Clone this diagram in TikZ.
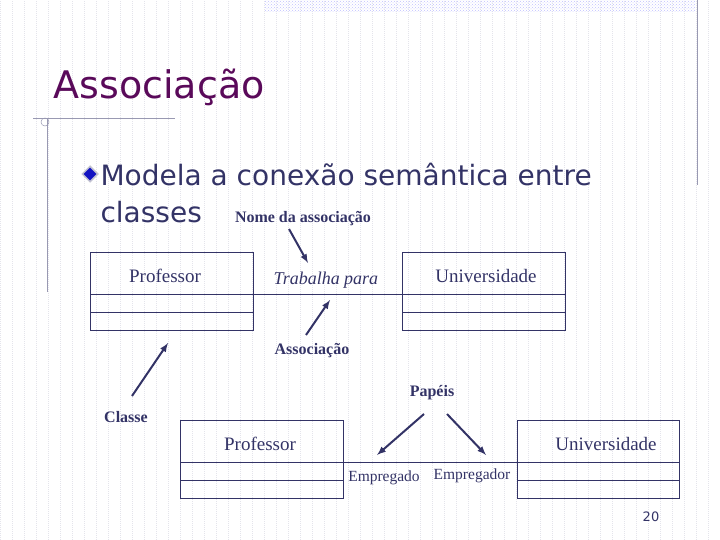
\documentclass[tikz,border=0pt]{standalone}
\usepackage{fontspec}
\setmainfont{Liberation Serif}
\newfontfamily\slidefont{DejaVu Sans}
\usetikzlibrary{patterns,shapes.geometric}
\definecolor{titlepurple}{RGB}{90,10,90}
\definecolor{navy}{RGB}{51,51,102}
\definecolor{gridgray}{RGB}{228,228,235}
\begin{document}
\begin{tikzpicture}[x=1pt,y=-1pt,
    box/.style={draw=navy,line width=1pt},
    pointer/.style={draw=navy,line width=2pt,-latex},
    lbl/.style={text=navy,font=\bfseries\fontsize{16}{18}\selectfont},
    classname/.style={text=navy,font=\fontsize{19}{21}\selectfont}]
    \useasboundingbox (0,0) rectangle (720,540);
    %background grid
    \draw[gridgray,dash pattern=on 1pt off 1pt,line width=0.4pt] (0,0) grid[step=12] (720,540);
    \fill[pattern=crosshatch dots,pattern color=blue!25] (265,0) rectangle (695,12);
    \draw[navy!50,line width=0.6pt] (697,0) -- (697,185);
    \draw[navy!50,line width=0.6pt] (47,118) -- (47,292);
    \draw[navy!50,line width=0.6pt] (33,118) -- (175,118);
    \draw[navy!50,line width=0.5pt] (45,122) circle (4);

    %title and bullet
    \node[anchor=west,text=titlepurple,font=\slidefont\fontsize{38}{40}\selectfont] (title) at (50,87) {Associação};
    \node[diamond,fill=blue!60!navy,draw=navy!30,line width=1.5pt,inner sep=4pt] (bul) at (90,174) {};
    \node[anchor=west,text=navy,font=\slidefont\fontsize{28}{32}\selectfont] (body1) at (97,175) {Modela a conexão semântica entre};
    \node[anchor=west,text=navy,font=\slidefont\fontsize{28}{32}\selectfont] (body2) at (97,212) {classes};
    \node[lbl] (nome) at (303,219) {Nome da associação};

    %top classes
    \draw[box] (90,252) rectangle (253,330) (90,294) -- (253,294) (90,312) -- (253,312);
    \draw[box] (402,252) rectangle (565,330) (402,294) -- (565,294) (402,312) -- (565,312);
    \draw[box] (253,294) -- (402,294);
    \node[classname] (prof1) at (165,276) {Professor};
    \node[classname] (univ1) at (486,276) {Universidade};
    \node[classname,font=\itshape\fontsize{18}{20}\selectfont] (trab) at (326,280) {Trabalha para};
    \node[lbl] (assoc) at (312,351) {Associação};
    \node[lbl] (classe) at (126,417) {Classe};
    \node[lbl] (papeis) at (432,393) {Papéis};
    \coordinate (nomeTip) at (308,263);
    \coordinate (assocTip) at (330,300);
    \coordinate (classeTip) at (168,343);
    \draw[pointer] (289,229) -- (nomeTip);
    \draw[pointer] (306,335) -- (assocTip);
    \draw[pointer] (132,396) -- (classeTip);

    %bottom classes
    \draw[box] (180,420) rectangle (343,498) (180,462) -- (343,462) (180,480) -- (343,480);
    \draw[box] (517,420) rectangle (679,498) (517,462) -- (679,462) (517,480) -- (679,480);
    \draw[box] (343,462) -- (517,462);
    \node[classname] (prof2) at (260,444) {Professor};
    \node[classname] (univ2) at (606,444) {Universidade};
    \node[lbl,font=\fontsize{15.5}{17}\selectfont] (emp1) at (384,478) {Empregado};
    \node[lbl,font=\fontsize{15.5}{17}\selectfont] (emp2) at (472,476) {Empregador};
    \coordinate (empTip1) at (377,455);
    \coordinate (empTip2) at (486,455);
    \draw[pointer] (424,414) -- (empTip1);
    \draw[pointer] (447,414) -- (empTip2);

    \node[text=navy,font=\slidefont\fontsize{13}{15}\selectfont] (page) at (651,517) {20};
\end{tikzpicture}
\end{document}
